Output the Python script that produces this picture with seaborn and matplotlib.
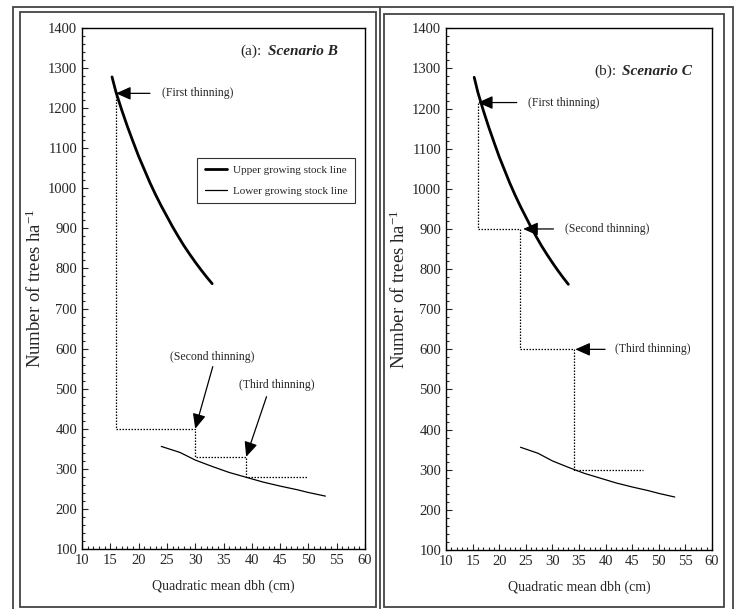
import matplotlib
matplotlib.use("Agg")
import matplotlib.pyplot as plt
from matplotlib.patches import Rectangle
from matplotlib.lines import Line2D
from matplotlib.ticker import MultipleLocator
import seaborn as sns

# --- data ---
upper_dbh = [15.3, 16, 17, 18, 19, 20, 21, 22, 23, 24, 25, 26, 27, 28, 29, 30, 31, 32, 33]
upper_n = [1278, 1240, 1196, 1155, 1117, 1080, 1047, 1014, 984, 956, 930, 904, 880, 857, 836, 816, 797, 779, 762]

lower_dbh = [24, 27.3, 30, 33, 36, 39, 42, 45, 48, 50, 53]
lower_n = [356, 341, 322, 306, 291, 279, 267, 257, 248, 241, 232]

# scenario B thinnings: dbh at thinning, density before / after
thin_b_dbh = [16, 30, 39]
thin_b_before = [1237, 400, 330]
thin_b_after = [400, 330, 280]
thin_b_end = 50

# scenario C thinnings
thin_c_dbh = [16, 24, 34]
thin_c_before = [1215, 900, 600]
thin_c_after = [900, 600, 300]
thin_c_end = 47

x_ticks = list(range(10, 61, 5))
y_ticks = list(range(100, 1401, 100))

sns.set_style("ticks")
plt.rcParams["font.family"] = ["Liberation Serif", "DejaVu Serif"]
plt.rcParams["mathtext.fontset"] = "custom"
plt.rcParams["mathtext.rm"] = "Liberation Serif"
plt.rcParams["mathtext.it"] = "Liberation Serif:italic"


def thinning_path(dbh, before, after, end):
    xs, ys = [], []
    for i, d in enumerate(dbh):
        xs += [d, d]
        ys += [before[i], after[i]]
    xs.append(end)
    ys.append(after[-1])
    return xs, ys


def draw_panel(ax, dbh, before, after, end):
    sns.lineplot(x=upper_dbh, y=upper_n, ax=ax, color="black", lw=2.0,
                 sort=False, label="Upper growing stock line")
    sns.lineplot(x=lower_dbh, y=lower_n, ax=ax, color="black", lw=0.9,
                 sort=False, label="Lower growing stock line")
    px, py = thinning_path(dbh, before, after, end)
    ax.plot(px, py, color="black", lw=0.9, ls=(0, (1.2, 1.2)))

    ax.set_xlim(10, 60)
    ax.set_ylim(100, 1400)
    ax.set_xticks(x_ticks)
    ax.set_yticks(y_ticks)
    ax.xaxis.set_minor_locator(MultipleLocator(1))
    ax.yaxis.set_minor_locator(MultipleLocator(20))
    ax.tick_params(which="both", direction="in", top=False, right=False,
                   labelsize=10.5, width=0.8)
    ax.tick_params(which="major", length=4)
    ax.tick_params(which="minor", length=2)
    for s in ax.spines.values():
        s.set_visible(True)
        s.set_linewidth(1.0)
        s.set_color("black")
    ax.set_xlabel("Quadratic mean dbh (cm)", fontsize=10, labelpad=9)
    ax.set_ylabel("Number of trees ha$^{-1}$", fontsize=13.5, labelpad=2)


arrow = dict(arrowstyle="-|>,head_length=0.9,head_width=0.4", color="black",
             lw=0.9, shrinkA=0, shrinkB=0)

fig = plt.figure(figsize=(7.35, 6.09), dpi=100)
ax1 = fig.add_axes([0.1116, 0.0985, 0.385, 0.8555])
ax2 = fig.add_axes([0.6068, 0.0969, 0.3619, 0.8566])

draw_panel(ax1, thin_b_dbh, thin_b_before, thin_b_after, thin_b_end)
draw_panel(ax2, thin_c_dbh, thin_c_before, thin_c_after, thin_c_end)

# left panel annotations
ax1.annotate("", xy=(16, 1237), xytext=(22, 1237), arrowprops=arrow)
ax1.text(24.1, 1237, "(First thinning)", fontsize=8.5, va="center", ha="left")
ax1.annotate("", xy=(30, 400), xytext=(33.1, 555), arrowprops=arrow)
ax1.text(33, 580, "(Second thinning)", fontsize=8.5, va="center", ha="center")
ax1.annotate("", xy=(39, 330), xytext=(42.6, 480), arrowprops=arrow)
ax1.text(44.4, 509, "(Third thinning)", fontsize=8.5, va="center", ha="center")
ax1.text(37.9, 1341, "(a):", fontsize=11, va="center", ha="left")
ax1.text(42.8, 1341, "Scenario B", fontsize=11, va="center", ha="left",
         fontweight="bold", fontstyle="italic")
leg = ax1.legend(loc="upper left", bbox_to_anchor=(0.388, 0.762), fontsize=8,
                 frameon=True, fancybox=False, edgecolor="black",
                 handlelength=2.0, handletextpad=0.6, borderpad=0.65,
                 labelspacing=1.05)
leg.get_frame().set_linewidth(0.8)

# right panel annotations
ax2.get_legend().remove()
ax2.annotate("", xy=(16, 1215), xytext=(23.3, 1215), arrowprops=arrow)
ax2.text(25.5, 1215, "(First thinning)", fontsize=8.5, va="center", ha="left")
ax2.annotate("", xy=(24.5, 900), xytext=(30.2, 900), arrowprops=arrow)
ax2.text(32.4, 900, "(Second thinning)", fontsize=8.5, va="center", ha="left")
ax2.annotate("", xy=(34.3, 600), xytext=(39.9, 600), arrowprops=arrow)
ax2.text(41.8, 600, "(Third thinning)", fontsize=8.5, va="center", ha="left")
ax2.text(37.9, 1292, "(b):", fontsize=11, va="center", ha="left")
ax2.text(43.0, 1292, "Scenario C", fontsize=11, va="center", ha="left",
         fontweight="bold", fontstyle="italic")

# frames around the panels
W, H = 735, 609


def frame(x0, y0, x1, y1, color="#444444", lw=1.3):
    fig.add_artist(Rectangle((x0 / W, 1 - y1 / H), (x1 - x0) / W, (y1 - y0) / H,
                             transform=fig.transFigure, fill=False,
                             edgecolor=color, lw=lw))


frame(13, 7, 733, 612)
frame(20, 12, 376, 607)
frame(384, 14, 724, 607)
fig.add_artist(Line2D([380 / W, 380 / W], [1 - 7 / H, 0], transform=fig.transFigure,
                      color="#444444", lw=1.3))

fig.savefig("out.png", dpi=100)
